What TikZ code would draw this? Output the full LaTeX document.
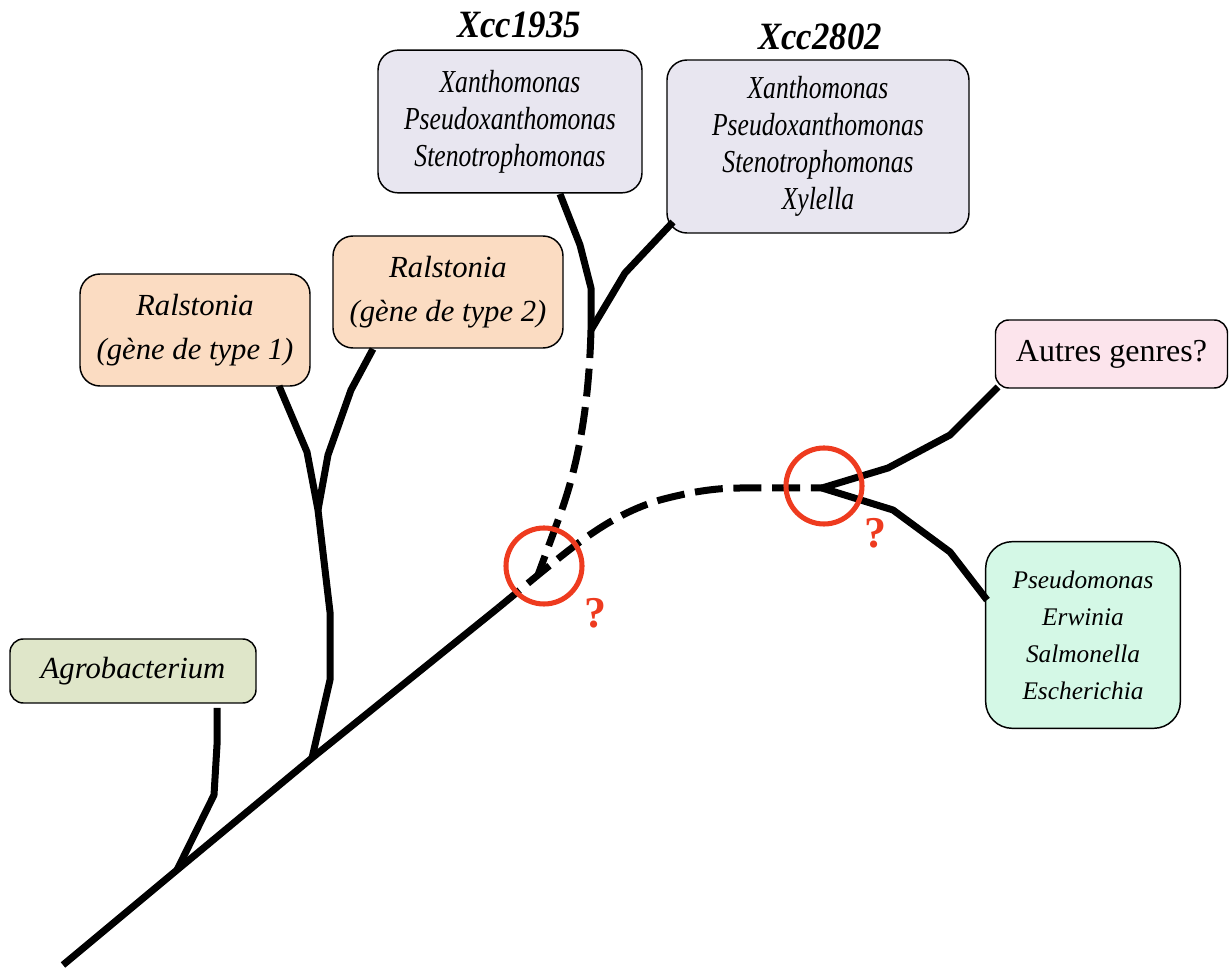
\documentclass[tikz,border=0pt]{standalone}
\usepackage{fontspec}
\setmainfont{Liberation Serif}
\newfontfamily\condit[FakeStretch=0.8]{Liberation Serif}
\newfontfamily\condtitle[FakeStretch=0.9]{Liberation Serif}
\definecolor{lav}{HTML}{E8E6F0}
\definecolor{peach}{HTML}{FBDCC2}
\definecolor{olivebox}{HTML}{DFE6C9}
\definecolor{pinkbox}{HTML}{FCE4EC}
\definecolor{mint}{HTML}{D4F8E6}
\definecolor{qred}{HTML}{EE3B1F}
\begin{document}
\begin{tikzpicture}[x=0.75pt,y=-0.75pt,
  box/.style={draw=black, line width=1.1pt, rounded corners=15pt, align=center, inner sep=0pt},
  branch/.style={line width=5.25pt, line join=round},
  dbranch/.style={branch, dash pattern=on 21pt off 8pt},
  ring/.style={circle, draw=qred, line width=3.8pt, minimum size=57pt, inner sep=0pt},
  qmark/.style={text=qred, font=\fontsize{33}{33}\selectfont\bfseries},
  title/.style={font=\fontsize{29}{29}\selectfont\condtitle\bfseries\itshape},
  big/.style={font=\fontsize{23}{33}\selectfont\itshape},
  cond/.style={font=\fontsize{24}{27.75}\selectfont\condit\itshape},
  mid/.style={font=\fontsize{19}{27.75}\selectfont\itshape}]
\useasboundingbox (0,0) rectangle (1229,969);

% boxes
\node[box, fill=lav, cond, minimum width=198pt, minimum height=107pt] (x1935) at (510,121.5)
  {Xanthomonas\\Pseudoxanthomonas\\Stenotrophomonas};
\node[title] (t1935) at (519,25) {Xcc1935};
\node[box, fill=lav, cond, minimum width=226.5pt, minimum height=129.75pt] (x2802) at (818,146.5)
  {Xanthomonas\\Pseudoxanthomonas\\Stenotrophomonas\\Xylella};
\node[title] (t2802) at (820,37) {Xcc2802};
\node[box, fill=peach, big, minimum width=172.5pt, minimum height=84pt] (ral1) at (195,330)
  {Ralstonia\\(gène de type 1)};
\node[box, fill=peach, big, minimum width=172.5pt, minimum height=84pt] (ral2) at (448,292)
  {Ralstonia\\(gène de type 2)};
\node[box, fill=olivebox, big, rounded corners=10pt, minimum width=184.5pt, minimum height=48pt] (agro) at (133,671)
  {Agrobacterium};
\node[box, fill=pinkbox, rounded corners=10pt, font=\fontsize{24}{28}\selectfont, minimum width=174pt, minimum height=51pt] (autres) at (1111.5,354)
  {Autres genres?};
\node[box, fill=mint, mid, rounded corners=20pt, minimum width=146pt, minimum height=140pt] (pseudo) at (1083,635)
  {Pseudomonas\\Erwinia\\Salmonella\\Escherichia};

% key points
\coordinate (root) at (63,965);
\coordinate (ja) at (177,870);
\coordinate (jr) at (312,758);
\coordinate (ds) at (498,608);
\coordinate (jm) at (538,575);
\coordinate (jx) at (591,330);
\coordinate (jright) at (822,488);
\coordinate (ra) at (279,386);
\coordinate (rb) at (373,349);
\coordinate (jrr) at (318,510);
\coordinate (aa) at (217,708);
\coordinate (xa) at (560,194);
\coordinate (xb) at (673,222);
\coordinate (au) at (998,387);
\coordinate (ps) at (987,600);

% solid branches
\draw[branch] (root) -- (ja) -- (jr) -- (ds);
\draw[branch] (aa) -- (217,745) -- (214,795) -- (ja);
\draw[branch] (ra) -- (307,452) -- (jrr) -- (330,612) -- (330,680) -- (jr);
\draw[branch] (rb) -- (351,390) -- (328,455) -- (jrr);
\draw[branch] (xa) -- (580,245) -- (591,288) -- (jx);
\draw[branch] (jx) -- (625,273) -- (xb);
\draw[branch] (jright) -- (888,468) -- (950,435) -- (au);
\draw[branch] (jright) -- (893,510) -- (950,552) -- (ps);

% dashed branches
\draw[dbranch] (ds) -- (jm) .. controls (575,545) and (610,515) .. (660,500) .. controls (690,492) and (715,488) .. (740,488) -- (jright);
\draw[dbranch] (jx) .. controls (589,400) and (580,460) .. (560,515) -- (jm);

% rings and question marks
\node[ring] (c1) at (544,566) {};
\node[ring] (c2) at (824,486) {};
\node[qmark] (q1) at (595,613) {?};
\node[qmark] (q2) at (875,533) {?};
\end{tikzpicture}
\end{document}
